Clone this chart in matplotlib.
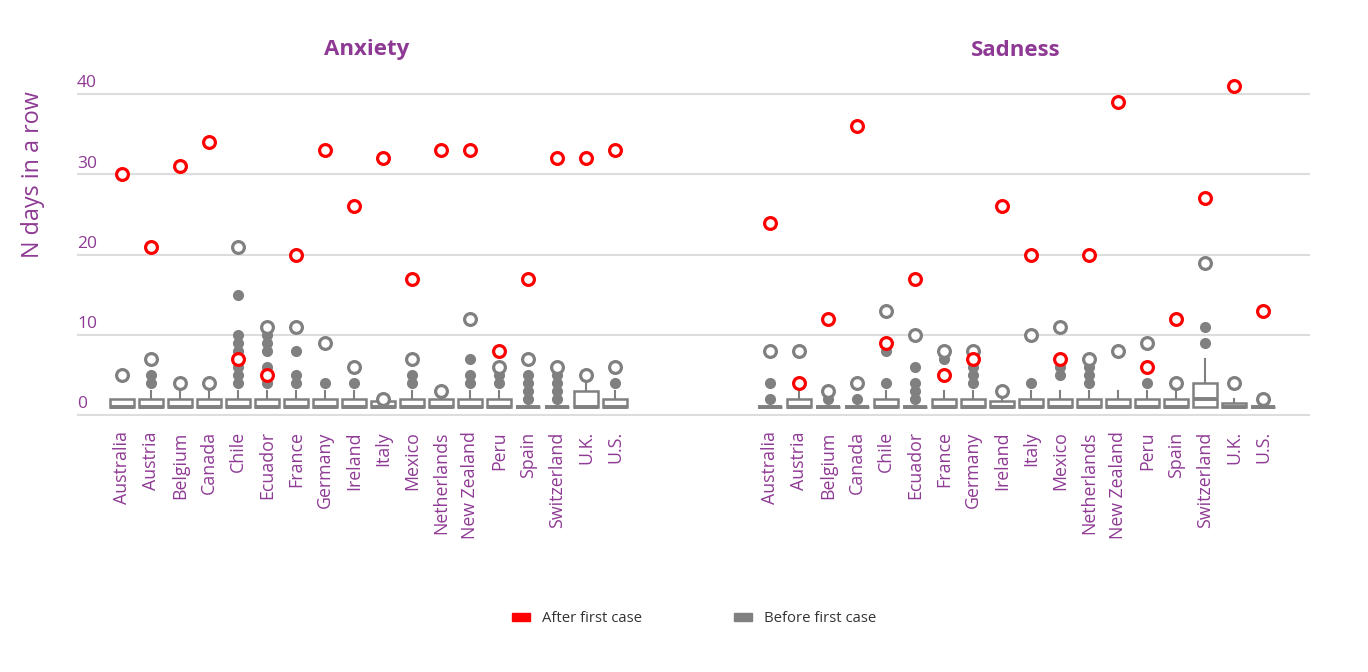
import matplotlib
matplotlib.use("Agg")
import matplotlib.pyplot as plt
from matplotlib.patches import Patch
import numpy as np

plt.rcParams['font.family'] = ['Open Sans', 'DejaVu Sans']

PURPLE = '#8e3a94'
GRAY = '#808080'

countries = ['Australia', 'Austria', 'Belgium', 'Canada', 'Chile', 'Ecuador', 'France',
             'Germany', 'Ireland', 'Italy', 'Mexico', 'Netherlands', 'New Zealand', 'Peru',
             'Spain', 'Switzerland', 'U.K.', 'U.S.']

# Anxiety
anx_after = [30, 21, 31, 34, 7, 5, 20, 33, 26, 32, 17, 33, 33, 8, 17, 32, 32, 33]
anx_before_max = [5, 7, 4, 4, 21, 11, 11, 9, 6, 2, 7, 3, 12, 6, 7, 6, 5, 6]
anx_q1 = [1] * 18
anx_med = [1] * 18
anx_q3 = [2, 2, 2, 2, 2, 2, 2, 2, 2, 1.75, 2, 2, 2, 2, 1, 1, 3, 2]
anx_whishi = [2, 3, 3, 3, 3, 3, 3, 3, 3, 1.75, 3, 2, 3, 3, 1, 1, 4, 3]
anx_outliers = [[], [4, 5], [], [], [4, 5, 6, 7, 8, 9, 10, 15], [4, 5, 6, 8, 9, 10],
                [4, 5, 8], [4], [4], [], [4, 5], [], [4, 5, 7], [4, 5], [2, 3, 4, 5],
                [2, 3, 4, 5], [], [4]]

# Sadness
sad_after = [24, 4, 12, 36, 9, 17, 5, 7, 26, 20, 7, 20, 39, 6, 12, 27, 41, 13]
sad_before_max = [8, 8, 3, 4, 13, 10, 8, 8, 3, 10, 11, 7, 8, 9, 4, 19, 4, 2]
sad_q1 = [1] * 18
sad_med = [1] * 15 + [2] + [1, 1]
sad_q3 = [1, 2, 1, 1, 2, 1, 2, 2, 1.75, 2, 2, 2, 2, 2, 2, 4, 1.5, 1]
sad_whishi = [1, 3, 1, 1, 3, 1, 3, 3, 2, 3, 3, 3, 3, 3, 3, 7, 2, 1]
sad_outliers = [[2, 4], [], [2], [2], [4, 8], [2, 3, 4, 6], [7], [4, 5, 6], [], [4],
                [5, 6], [4, 5, 6], [], [4], [], [9, 11], [], []]

fig = plt.figure(figsize=(13.68, 6.72), dpi=100)
ax = fig.add_axes([77 / 1368, 1 - 416 / 672, (1310 - 77) / 1368, (416 - 78) / 672])

x_left = np.arange(18)
x_right = np.arange(18) + 22.35


def draw_panel(x, q1, med, q3, whishi, outliers, before_max, after):
    stats = [dict(q1=a, med=m, q3=b, whislo=a, whishi=w, fliers=f)
             for a, m, b, w, f in zip(q1, med, q3, whishi, outliers)]
    ax.bxp(stats, positions=x, widths=0.8, showcaps=False, patch_artist=True,
           manage_ticks=False,
           boxprops=dict(facecolor='white', edgecolor=GRAY, linewidth=1.8),
           whiskerprops=dict(color=GRAY, linewidth=1.5),
           medianprops=dict(color=GRAY, linewidth=2.8),
           flierprops=dict(marker='o', markerfacecolor=GRAY, markeredgecolor=GRAY,
                           markersize=7))
    ax.scatter(x, before_max, s=72, facecolors='white', edgecolors=GRAY,
               linewidths=2.3, zorder=4)
    ax.scatter(x, after, s=72, facecolors='white', edgecolors='red',
               linewidths=2.3, zorder=5)


draw_panel(x_left, anx_q1, anx_med, anx_q3, anx_whishi, anx_outliers, anx_before_max, anx_after)
draw_panel(x_right, sad_q1, sad_med, sad_q3, sad_whishi, sad_outliers, sad_before_max, sad_after)

ax.set_xlim(-1.55, 40.97)
ax.set_ylim(-0.1, 42)
ax.set_xticks(np.concatenate([x_left, x_right]))
ax.set_xticklabels(countries * 2, rotation=90, color=PURPLE, fontsize=12.8)
ax.tick_params(axis='x', length=0, pad=11)

yticks = [0, 10, 20, 30, 40]
ax.set_yticks(yticks)
ax.set_yticklabels([])
ax.tick_params(axis='y', length=0)
ax.yaxis.grid(True, color='#dddddd', linewidth=1.5)
ax.set_axisbelow(True)
for s in ax.spines.values():
    s.set_visible(False)

for v in yticks:
    ax.text(0, v + 0.85, str(v), transform=ax.get_yaxis_transform(), ha='left',
            va='baseline', fontsize=12.5, color=PURPLE)

fig.text(367 / 1368, 1 - 50 / 672, 'Anxiety', ha='center', va='center',
         fontsize=16, fontweight='bold', color=PURPLE)
fig.text(1016 / 1368, 1 - 50 / 672, 'Sadness', ha='center', va='center',
         fontsize=16, fontweight='bold', color=PURPLE)
fig.text(33 / 1368, 1 - 175 / 672, 'N days in a row', rotation=90, ha='center',
         va='center', fontsize=16.8, color=PURPLE)

handles = [Patch(color='red', label='After first case'),
           Patch(color=GRAY, label='Before first case')]
fig.legend(handles=handles, loc='center', bbox_to_anchor=(0.5 + 10 / 1368, 1 - 619 / 672),
           ncol=2, frameon=False, columnspacing=6.2, handlelength=1.2, handleheight=0.5,
           handletextpad=0.8, fontsize=10.7, labelcolor='#333333')

fig.savefig('out.png', dpi=100)
